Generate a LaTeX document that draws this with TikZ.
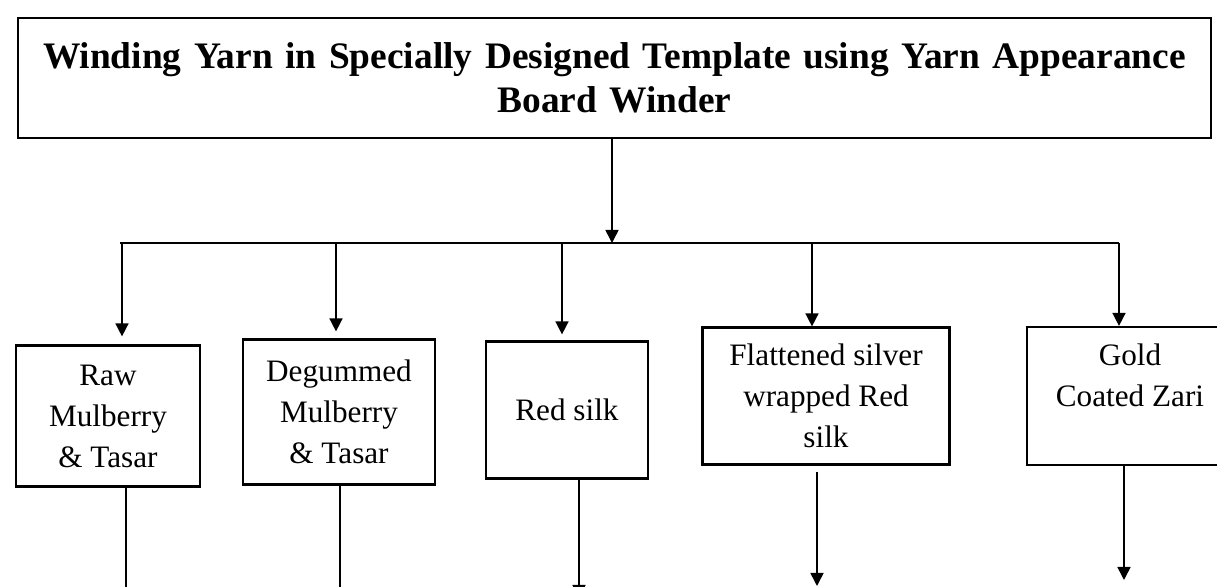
\documentclass[tikz,border=0pt]{standalone}
\usepackage{fontspec}
\setmainfont{Liberation Serif}
\usetikzlibrary{arrows.meta,positioning,calc}

\begin{document}
\begin{tikzpicture}[
  x=0.5pt, y=-0.5pt,
  hdr/.style = {
    rectangle, draw, line width=1.1pt, inner sep=0pt,
    minimum width=596.5pt, minimum height=60pt,
    text width=590pt, align=center,
    font=\bfseries\fontsize{18.7}{22}\selectfont
  },
  blk/.style = {
    rectangle, draw, line width=1.1pt, inner sep=0pt,
    align=center, font=\fontsize{15.6}{20.5}\selectfont
  },
  arr/.style = {-{Triangle[length=6.5pt,width=6.5pt]}, line width=0.8pt},
  lin/.style = {line width=0.8pt}
]
\useasboundingbox (0,0) rectangle (1217,587);
\clip (0,0) rectangle (1217,587);

% Title box
\node[hdr] (title) at (614.5,78)
  {Winding Yarn in Specially Designed Template using Yarn Appearance\\Board Winder};

% Row of yarn types
\node[blk, minimum width=92pt,    minimum height=70.5pt] (raw)   at (108,416)  {Raw\\Mulberry\\\& Tasar};
\node[blk, minimum width=96pt,    minimum height=72.5pt] (degum) at (339,412)  {Degummed\\Mulberry\\\& Tasar};
\node[blk, minimum width=81pt,    minimum height=68.5pt] (red)   at (567,410)  {Red silk};
\node[blk, minimum width=123.5pt, minimum height=68.5pt] (flat)  at (826,396)  {Flattened silver\\wrapped Red\\silk};
\node[blk, minimum width=103pt,   minimum height=69pt]   (gold)  at (1130,396) {Gold\\Coated Zari\\\mbox{}};

% Distribution bus
\coordinate (bus)  at (612,243);
\coordinate (busL) at (120,243);
\coordinate (busR) at (1119,243);
\coordinate (d1) at (122,243);
\coordinate (d2) at (336,243);
\coordinate (d3) at (562,243);
\coordinate (d4) at (812,243);

\draw[arr] (title.south -| bus) -- (bus);
\draw[lin] (busL) -- (busR);

% Drops into the boxes
\draw[arr, shorten >=4pt]   (d1) -- (d1 |- raw.north);
\draw[arr, shorten >=3.5pt] (d2) -- (d2 |- degum.north);
\draw[arr, shorten >=3pt]   (d3) -- (d3 |- red.north);
\draw[arr] (d4)   -- (d4 |- flat.north);
\draw[arr] (busR) -- (busR |- gold.north);

% Outgoing lines (continue below)
\coordinate (o1) at (126,600);
\coordinate (o2) at (340,600);
\coordinate (o3) at (579,598);
\coordinate (o4) at (817,586);
\coordinate (o5) at (1124,580);
\draw[lin] ([xshift=9pt]raw.south)  -- (o1);
\draw[lin] ([xshift=0.5pt]degum.south) -- (o2);
\draw[arr] ([xshift=6pt]red.south)  -- (o3);
\draw[arr, shorten <=3pt] ([xshift=-4.5pt]flat.south) -- (o4);
\draw[arr] ([xshift=-3pt]gold.south) -- (o5);

\end{tikzpicture}
\end{document}
